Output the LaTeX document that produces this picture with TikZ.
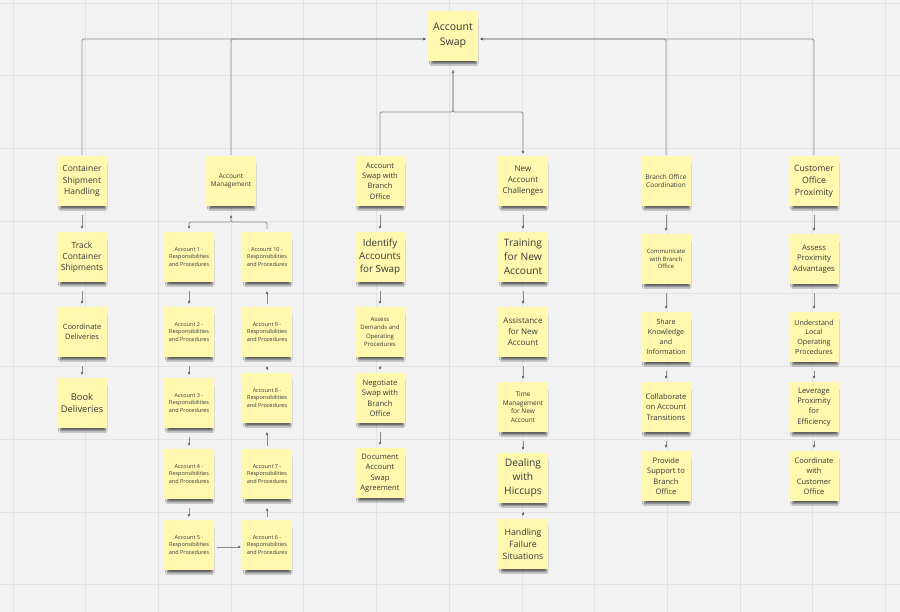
\documentclass[tikz,border=0pt]{standalone}
\usepackage{fontspec}
\setmainfont{Open Sans}
\usetikzlibrary{arrows.meta,shadows.blur}
\definecolor{bg}{HTML}{F2F2F2}
\definecolor{gridc}{HTML}{E3E3E3}
\definecolor{sticky}{HTML}{FFF8AE}
\definecolor{txt}{HTML}{383838}
\definecolor{conn}{HTML}{8C8C8C}
\definecolor{tipc}{HTML}{555555}
\newcommand\fs[2]{\fontsize{#1}{#2}\selectfont}
\tikzset{
  note/.style={rectangle, fill=sticky, minimum width=50pt, minimum height=50pt,
    inner sep=1pt, align=center, text=txt,
    blur shadow={shadow xshift=1pt, shadow yshift=-6pt, shadow scale=0.9,
      shadow opacity=60, shadow blur radius=2pt, shadow blur steps=8}},
  fz/.style 2 args={font=\fs{#1}{#2}},
  arr/.style={draw=conn, line width=0.8pt, rounded corners=1.5pt,
    -{Stealth[length=3pt,width=2.6pt,color=tipc]}},
  dnarr/.style={arr, shorten <=9pt, shorten >=3pt},
  uparr/.style={arr, shorten <=3pt, shorten >=9pt},
  gridline/.style={draw=gridc, line width=0.8pt}
}
\begin{document}
\begin{tikzpicture}[x=1pt,y=-1pt]
\fill[bg] (0,0) rectangle (900,612);
\useasboundingbox (0,0) rectangle (900,612);
\foreach \i in {0,...,12} \draw[gridline] ({13+72.7*\i},0) -- ({13+72.7*\i},612);
\foreach \i in {0,...,8} \draw[gridline] (0,{3+72.7*\i}) -- (900,{3+72.7*\i});

% root
\node[note, fz={10.5}{15}] (root) at (453,36) {Account\\Swap};

% top level
\node[note, fz={8.5}{11.8}] (c1) at (82,181) {Container\\Shipment\\Handling};
\node[note, fz={6.5}{8.7}] (am) at (231,181) {Account\\Management};
\node[note, fz={7.5}{10.3}] (sw) at (380,181) {Account\\Swap with\\Branch\\Office};
\node[note, fz={8}{11}] (na) at (523,181) {New\\Account\\Challenges};
\node[note, fz={6.5}{8.7}] (bo) at (666,181) {Branch Office\\Coordination};
\node[note, fz={8.7}{12}] (co) at (814,181) {Customer\\Office\\Proximity};

% column 1
\node[note, fz={8.5}{11}] (c1a) at (82,257) {Track\\Container\\Shipments};
\node[note, fz={7.4}{10}] (c1b) at (82,332) {Coordinate\\Deliveries};
\node[note, fz={9.3}{12.7}] (c1c) at (82,403) {Book\\Deliveries};

% column 2
\node[note, fz={5.5}{7.7}] (a1) at (189,257) {Account 1 -\\Responsibilities\\and Procedures};
\node[note, fz={5.5}{7.7}] (a2) at (189,332) {Account 2 -\\Responsibilities\\and Procedures};
\node[note, fz={5.5}{7.7}] (a3) at (189,403) {Account 3 -\\Responsibilities\\and Procedures};
\node[note, fz={5.5}{7.7}] (a4) at (189,474) {Account 4 -\\Responsibilities\\and Procedures};
\node[note, fz={5.5}{7.7}] (a5) at (189,545) {Account 5 -\\Responsibilities\\and Procedures};
\node[note, fz={5.5}{7.7}] (a6) at (267,545) {Account 6 -\\Responsibilities\\and Procedures};
\node[note, fz={5.5}{7.7}] (a7) at (267,474) {Account 7 -\\Responsibilities\\and Procedures};
\node[note, fz={5.5}{7.7}] (a8) at (267,398) {Account 8 -\\Responsibilities\\and Procedures};
\node[note, fz={5.5}{7.7}] (a9) at (267,332) {Account 9 -\\Responsibilities\\and Procedures};
\node[note, fz={5.5}{7.7}] (a10) at (267,257) {Account 10 -\\Responsibilities\\and Procedures};

% column 3
\node[note, fz={9.8}{13.3}] (s1) at (380,257) {Identify\\Accounts\\for Swap};
\node[note, fz={6}{8.3}] (s2) at (380,332) {Assess\\Demands and\\Operating\\Procedures};
\node[note, fz={7.6}{10.5}] (s3) at (380,398) {Negotiate\\Swap with\\Branch\\Office};
\node[note, fz={7.6}{10.5}] (s4) at (380,473) {Document\\Account\\Swap\\Agreement};

% column 4
\node[note, fz={10.2}{14}] (n1) at (523,257) {Training\\for New\\Account};
\node[note, fz={8}{11}] (n2) at (523,332) {Assistance\\for New\\Account};
\node[note, fz={6.5}{8.7}] (n3) at (523,407) {Time\\Management\\for New\\Account};
\node[note, fz={10.3}{14}] (n4) at (523,478) {Dealing\\with\\Hiccups};
\node[note, fz={8.8}{11.8}] (n5) at (523,544) {Handling\\Failure\\Situations};

% column 5
\node[note, fz={5.9}{7.8}] (b1) at (666,259) {Communicate\\with Branch\\Office};
\node[note, fz={7.1}{9.8}] (b2) at (666,337) {Share\\Knowledge\\and\\Information};
\node[note, fz={7.6}{10.5}] (b3) at (666,407) {Collaborate\\on Account\\Transitions};
\node[note, fz={7.6}{10.5}] (b4) at (666,476) {Provide\\Support to\\Branch\\Office};

% column 6
\node[note, fz={7.7}{10.7}] (p1) at (814,259) {Assess\\Proximity\\Advantages};
\node[note, fz={7.1}{9.7}] (p2) at (814,337) {Understand\\Local\\Operating\\Procedures};
\node[note, fz={7.6}{10.3}] (p3) at (814,407) {Leverage\\Proximity\\for\\Efficiency};
\node[note, fz={7.5}{10.5}] (p4) at (814,476) {Coordinate\\with\\Customer\\Office};

% top-level connectors
\draw[arr, shorten >=2pt] ([yshift=1pt]c1.north) |- ([yshift=-3pt]root.west);
\draw[arr, shorten >=2pt] ([yshift=1pt]am.north) |- ([yshift=-3pt]root.west);
\draw[arr, shorten >=2pt] ([yshift=1pt]bo.north) |- ([yshift=-3pt]root.east);
\draw[arr, shorten >=2pt] ([yshift=1pt]co.north) |- ([yshift=-3pt]root.east);
\coordinate (mid) at (453,112);
\draw[arr] ([yshift=1pt]sw.north) |- (mid) -- ([yshift=-9pt]root.south);
\draw[arr] ([yshift=-9pt]root.south) -- (mid) -| ([yshift=2pt]na.north);

% column 1
\draw[dnarr] (c1.south) -- (c1a.north);
\draw[dnarr] (c1a.south) -- (c1b.north);
\draw[dnarr] (c1b.south) -- (c1c.north);

% column 2
\coordinate (amj) at (231,222);
\draw[arr] ([yshift=3pt]a10.north) |- (amj) -- ([yshift=-9pt]am.south);
\draw[arr] (amj) -| ([yshift=3pt]a1.north);
\draw[dnarr] (a1.south) -- (a2.north);
\draw[dnarr] (a2.south) -- (a3.north);
\draw[dnarr] (a3.south) -- (a4.north);
\draw[dnarr] (a4.south) -- (a5.north);
\draw[arr] ([xshift=3pt,yshift=-2pt]a5.east) -- ([xshift=-1pt,yshift=-2pt]a6.west);
\draw[uparr] (a6.north) -- (a7.south);
\draw[uparr] (a7.north) -- (a8.south);
\draw[uparr] (a8.north) -- (a9.south);
\draw[uparr] (a9.north) -- (a10.south);

% column 3
\draw[dnarr] (sw.south) -- (s1.north);
\draw[dnarr] (s1.south) -- (s2.north);
\draw[dnarr] (s2.south) -- (s3.north);
\draw[dnarr] (s3.south) -- (s4.north);

% column 4
\draw[dnarr] (na.south) -- (n1.north);
\draw[dnarr] (n1.south) -- (n2.north);
\draw[dnarr] (n2.south) -- (n3.north);
\draw[dnarr] (n3.south) -- (n4.north);
\draw[dnarr] (n4.south) -- (n5.north);

% column 5
\draw[dnarr] (bo.south) -- (b1.north);
\draw[dnarr] (b1.south) -- (b2.north);
\draw[dnarr] (b2.south) -- (b3.north);
\draw[dnarr] (b3.south) -- (b4.north);

% column 6
\draw[dnarr] (co.south) -- (p1.north);
\draw[dnarr] (p1.south) -- (p2.north);
\draw[dnarr] (p2.south) -- (p3.north);
\draw[dnarr] (p3.south) -- (p4.north);
\end{tikzpicture}
\end{document}
